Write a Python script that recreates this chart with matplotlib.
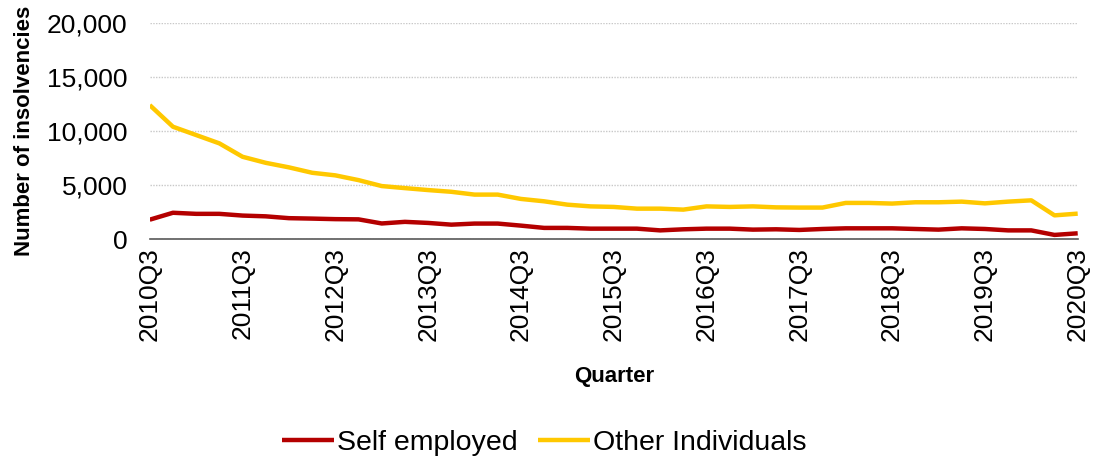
import matplotlib.pyplot as plt

plt.rcParams['font.family'] = ['Liberation Sans', 'DejaVu Sans']

# Quarters 2010Q3 .. 2020Q3
quarters = [f"{y}Q{q}" for y in range(2010, 2021) for q in range(1, 5)][2:43]

self_employed = [1800, 2440, 2340, 2340, 2180, 2110, 1940, 1900, 1850, 1830,
                 1450, 1600, 1500, 1340, 1440, 1440, 1250, 1040, 1040, 970,
                 970, 970, 810, 910, 970, 970, 880, 910, 850, 940,
                 1000, 1000, 1000, 940, 880, 1000, 940, 810, 810, 390, 540]

other_individuals = [12400, 10400, 9630, 8860, 7620, 7060, 6640, 6140, 5900, 5460,
                     4910, 4720, 4540, 4380, 4120, 4120, 3720, 3500, 3190, 3030,
                     2980, 2820, 2820, 2730, 3030, 2980, 3030, 2940, 2920, 2920,
                     3350, 3350, 3290, 3410, 3410, 3470, 3310, 3470, 3590, 2200, 2360]


def line_chart():
    fig = plt.figure(figsize=(10.93, 4.59), dpi=100)
    ax = fig.add_axes([0.137, 0.479, 0.849, 0.471])

    x = range(len(quarters))
    ax.plot(x, self_employed, color='#B40000', lw=3.2, label='Self employed',
            solid_capstyle='butt')
    ax.plot(x, other_individuals, color='#FFC800', lw=3.2, label='Other Individuals',
            solid_capstyle='butt')

    ax.set_xlim(0, len(quarters) - 1)
    ax.set_ylim(0, 20000)
    ax.set_yticks(range(0, 20001, 5000))
    ax.set_yticklabels([f"{v:,}" for v in range(0, 20001, 5000)], fontsize=19)
    ax.set_xticks(range(0, len(quarters), 4))
    ax.set_xticklabels(quarters[::4], rotation=90, fontsize=19)
    ax.tick_params(length=0)
    ax.tick_params(axis='x', pad=6)
    ax.tick_params(axis='y', pad=16)

    # Set labels
    ax.set_xlabel('Quarter', fontsize=16, fontweight='bold')
    ax.set_ylabel('Number of insolvencies', fontsize=16, fontweight='bold')
    ax.xaxis.set_label_coords(0.5, -0.634)
    ax.yaxis.set_label_coords(-0.135, 0.5)
    ax.xaxis.label.set_va('center')
    ax.yaxis.label.set_va('center')

    # Grid and spines
    ax.grid(axis='y', color='#C8C8C8', linestyle=(0, (1, 1)), lw=1)
    ax.set_axisbelow(True)
    for s in ['top', 'right', 'left']:
        ax.spines[s].set_visible(False)
    ax.spines['bottom'].set_color('#595959')
    ax.spines['bottom'].set_linewidth(1.2)

    fig.legend(loc='center', bbox_to_anchor=(0.498, 0.035), ncol=2, frameon=False,
               fontsize=20.5, handlelength=1.83, handletextpad=0.1, columnspacing=0.7)

    plt.savefig("out.png", dpi=100)


def main():
    line_chart()


if __name__ == "__main__":
    main()
